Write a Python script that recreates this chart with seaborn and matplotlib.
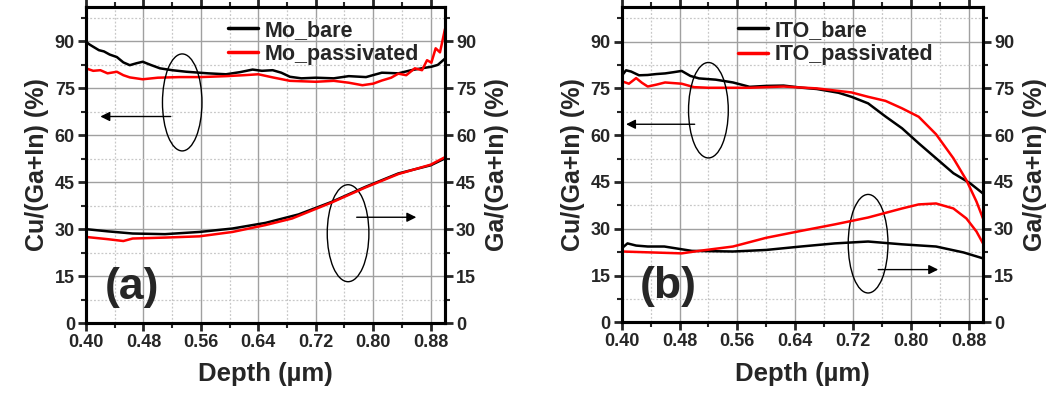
import numpy as np
import matplotlib
matplotlib.use("Agg")
import matplotlib.pyplot as plt
from matplotlib.patches import Ellipse
from matplotlib.ticker import MultipleLocator, FixedLocator
import seaborn as sns

# ---- panel (a): Mo substrate ----
mo_bare_cu_x = [0.400, 0.405, 0.410, 0.418, 0.425, 0.433, 0.443, 0.452, 0.461, 0.470, 0.479, 0.490,
                0.503, 0.520, 0.540, 0.570, 0.595, 0.615, 0.632, 0.645, 0.660, 0.672, 0.684, 0.700,
                0.720, 0.745, 0.766, 0.790, 0.812, 0.835, 0.853, 0.870, 0.881, 0.890, 0.900]
mo_bare_cu = [89.9, 89.0, 88.3, 87.2, 86.8, 85.8, 85.0, 83.3, 82.4, 83.0, 83.5, 82.5,
              81.4, 80.8, 80.3, 79.8, 79.5, 80.2, 81.0, 80.6, 80.8, 80.0, 78.7, 78.2,
              78.4, 78.2, 78.9, 78.6, 80.0, 79.8, 80.8, 81.5, 81.9, 82.5, 84.5]
mo_pas_cu_x = [0.400, 0.410, 0.420, 0.430, 0.443, 0.452, 0.461, 0.479, 0.500, 0.530, 0.560, 0.595,
               0.620, 0.640, 0.660, 0.684, 0.720, 0.745, 0.766, 0.785, 0.800, 0.812, 0.825, 0.835,
               0.846, 0.858, 0.868, 0.875, 0.881, 0.887, 0.893, 0.900]
mo_pas_cu = [81.4, 80.6, 80.8, 79.8, 80.3, 79.2, 78.5, 77.9, 78.4, 78.6, 78.6, 78.9,
             79.2, 79.5, 78.5, 77.4, 77.1, 77.4, 76.8, 76.0, 76.5, 77.5, 78.4, 79.7,
             79.2, 81.4, 80.8, 84.0, 83.2, 87.8, 86.5, 94.0]
mo_bare_ga_x = [0.400, 0.430, 0.465, 0.510, 0.558, 0.604, 0.650, 0.696, 0.742, 0.789, 0.835, 0.880, 0.900]
mo_bare_ga = [30.0, 29.3, 28.6, 28.4, 29.1, 30.2, 32.0, 34.7, 38.7, 43.5, 47.8, 50.4, 52.6]
mo_pas_ga_x = [0.400, 0.430, 0.452, 0.465, 0.510, 0.558, 0.604, 0.650, 0.687, 0.742, 0.789, 0.835, 0.880, 0.900]
mo_pas_ga = [27.5, 26.8, 26.2, 27.0, 27.3, 27.7, 29.1, 31.3, 33.4, 38.5, 43.3, 47.6, 50.6, 53.0]

# ---- panel (b): ITO substrate ----
ito_bare_cu_x = [0.400, 0.406, 0.413, 0.424, 0.436, 0.448, 0.460, 0.472, 0.483, 0.495, 0.507, 0.530,
                 0.554, 0.577, 0.600, 0.624, 0.650, 0.670, 0.700, 0.718, 0.741, 0.765, 0.788, 0.811,
                 0.835, 0.859, 0.882, 0.900]
ito_bare_cu = [79.0, 80.8, 80.4, 79.2, 79.3, 79.6, 79.8, 80.2, 80.6, 79.0, 78.2, 77.8,
               76.9, 75.5, 75.8, 75.9, 75.2, 74.8, 73.6, 72.3, 70.2, 66.0, 62.2, 57.4,
               52.6, 47.8, 44.6, 41.3]
ito_pas_cu_x = [0.400, 0.410, 0.420, 0.428, 0.436, 0.448, 0.460, 0.483, 0.500, 0.520, 0.577, 0.624,
                0.670, 0.718, 0.741, 0.765, 0.788, 0.811, 0.835, 0.859, 0.877, 0.891, 0.900]
ito_pas_cu = [77.3, 76.5, 78.3, 76.8, 75.6, 76.2, 76.9, 76.5, 75.4, 75.2, 75.2, 75.6,
              75.0, 73.7, 72.3, 71.0, 68.6, 65.9, 60.3, 52.6, 45.6, 38.7, 33.3]
ito_bare_ga_x = [0.400, 0.408, 0.420, 0.436, 0.459, 0.497, 0.554, 0.600, 0.648, 0.695, 0.741, 0.788,
                 0.835, 0.873, 0.900]
ito_bare_ga = [23.7, 25.3, 24.6, 24.3, 24.3, 22.9, 22.7, 23.2, 24.3, 25.3, 25.9, 25.0,
               24.3, 22.4, 20.5]
ito_pas_ga_x = [0.400, 0.483, 0.507, 0.554, 0.600, 0.648, 0.695, 0.741, 0.788, 0.811, 0.835,
                0.859, 0.877, 0.891, 0.900]
ito_pas_ga = [22.7, 22.1, 22.9, 24.3, 27.1, 29.3, 31.4, 33.6, 36.5, 37.8, 38.1,
              36.5, 33.3, 29.1, 25.3]

x_ticks = [0.40, 0.48, 0.56, 0.64, 0.72, 0.80, 0.88]
y_ticks = [0, 15, 30, 45, 60, 75, 90]


def setup_style():
    sns.set_theme(style="ticks")
    plt.rcParams["font.family"] = ["Liberation Sans", "DejaVu Sans"]
    plt.rcParams["font.weight"] = "bold"
    plt.rcParams["axes.labelweight"] = "bold"


def style_y(ax):
    ax.set_ylim(0, 101)
    ax.yaxis.set_major_locator(FixedLocator(y_ticks))
    ax.yaxis.set_minor_locator(MultipleLocator(7.5))
    for s in ax.spines.values():
        s.set_linewidth(2.2)
        s.set_color("black")
    ax.tick_params(which="major", direction="out", length=6, width=2, labelsize=13, pad=2)
    ax.tick_params(which="minor", direction="out", length=3.5, width=1.5)


def style_x(ax):
    ax.set_xlim(0.40, 0.90)
    ax.xaxis.set_major_locator(FixedLocator(x_ticks))
    ax.xaxis.set_minor_locator(MultipleLocator(0.04))
    ax.set_xticklabels([f"{t:.2f}" for t in x_ticks])
    ax.tick_params(which="both", top=True)
    ax.grid(which="major", color="#a0a0a0", lw=1.0)
    ax.grid(which="minor", color="#c8c8c8", lw=0.9, ls=(0, (1.5, 1.5)))
    ax.set_axisbelow(True)


def draw_panel(ax, name, cu_sets, ga_sets, tag, ell_l, arr_l, ell_r, arr_r, leg_x):
    ax2 = ax.twinx()
    for (x, y), col, lab in zip(cu_sets, ["black", "red"], [f"{name}_bare", f"{name}_passivated"]):
        sns.lineplot(x=x, y=y, ax=ax, color=col, lw=1.8, label=lab)
    for (x, y), col in zip(ga_sets, ["black", "red"]):
        sns.lineplot(x=x, y=y, ax=ax2, color=col, lw=1.8)
    style_y(ax)
    style_y(ax2)
    style_x(ax)

    ax.set_xlabel("Depth (µm)", fontsize=18.5, labelpad=8)
    ax.set_ylabel("Cu/(Ga+In) (%)", fontsize=18, labelpad=4)
    ax2.set_ylabel("Ga/(Ga+In) (%)", fontsize=18, labelpad=6, rotation=90)

    leg = ax.legend(loc="upper left", bbox_to_anchor=(leg_x, 0.96), frameon=False,
                    fontsize=15.5, handlelength=1.4, handletextpad=0.3, borderpad=0,
                    borderaxespad=0, labelspacing=0.15)
    for h in leg.get_lines():
        h.set_linewidth(2.5)

    ax.text(0.464, 11.5, tag, fontsize=32, fontweight="bold", ha="center", va="center")

    for (cx, cy, w, h), (x0, x1, ya) in [(ell_l, arr_l), (ell_r, arr_r)]:
        ax.add_patch(Ellipse((cx, cy), w, h, fill=False, ec="black", lw=1.0, zorder=5))
        ax.annotate("", xy=(x1, ya), xytext=(x0, ya),
                    arrowprops=dict(arrowstyle="-|>", color="black", lw=1.0,
                                    mutation_scale=14, shrinkA=0, shrinkB=0), zorder=5)


def main():
    setup_style()
    fig = plt.figure(figsize=(10.62, 3.99), dpi=100)
    ax_a = fig.add_axes([86 / 1062, 1 - 323 / 399, 359 / 1062, 316 / 399])
    ax_b = fig.add_axes([621.7 / 1062, 1 - 322.3 / 399, 361.3 / 1062, 315 / 399])

    draw_panel(ax_a, "Mo",
               [(mo_bare_cu_x, mo_bare_cu), (mo_pas_cu_x, mo_pas_cu)],
               [(mo_bare_ga_x, mo_bare_ga), (mo_pas_ga_x, mo_pas_ga)],
               "(a)",
               (0.534, 70.5, 0.055, 31), (0.518, 0.42, 66),
               (0.765, 28.7, 0.058, 31), (0.777, 0.86, 33.8),
               0.395)
    draw_panel(ax_b, "ITO",
               [(ito_bare_cu_x, ito_bare_cu), (ito_pas_cu_x, ito_pas_cu)],
               [(ito_bare_ga_x, ito_bare_ga), (ito_pas_ga_x, ito_pas_ga)],
               "(b)",
               (0.52, 68, 0.055, 30.6), (0.501, 0.406, 63.5),
               (0.741, 25.2, 0.055, 31.6), (0.755, 0.838, 16.9),
               0.322)

    fig.savefig("out.png", dpi=100)
    plt.close(fig)


if __name__ == "__main__":
    main()
